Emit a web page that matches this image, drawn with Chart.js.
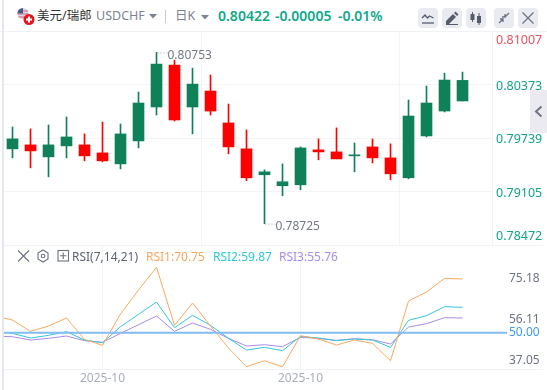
<!DOCTYPE html>
<html><head><meta charset="utf-8">
<script src="https://cdn.jsdelivr.net/npm/chart.js@4/dist/chart.umd.min.js"></script>
<style>
html,body{margin:0;padding:0;background:#fff;overflow:hidden}
#wrap{position:relative;width:547px;height:390px;font-family:"Noto Sans","Noto Sans CJK SC",sans-serif;overflow:hidden}
canvas{position:absolute;left:0;top:0}
.abs{position:absolute;white-space:nowrap}
#head{position:absolute;left:0;top:0;width:547px;height:32px;background:#fff;border-bottom:1px solid #f1f2f5;box-sizing:border-box;z-index:2}
.btn{position:absolute;top:8px;width:20px;height:20px;background:#e9ebf1;border-radius:4px}
.btn svg{position:absolute;left:0;top:0}
.t{line-height:18px;top:7px}
.g{color:#0fa88a;font-weight:600;font-size:14px}
.r{line-height:16px;top:249px;font-size:12px;z-index:3}
</style></head>
<body>
<div id="wrap">
<canvas id="main" width="547" height="390"></canvas>
<canvas id="rsi" width="547" height="390"></canvas>

<div class="abs" style="left:2px;top:0;width:2px;height:390px;background:#e4e8ef;z-index:3"></div>
<div class="abs" style="left:4px;top:245px;width:539px;height:1px;background:#f1f2f5"></div>
<div class="abs" style="left:4px;top:369px;width:539px;height:1px;background:#f1f2f5"></div>
<div class="abs" style="left:492px;top:32px;width:1px;height:213px;background:#f1f2f5"></div>

<div id="head">
  <svg class="abs" style="left:16px;top:7px" width="20" height="20" viewBox="0 0 20 20">
    <circle cx="7" cy="6.5" r="5.5" fill="#d9d9e3"/>
    <path d="M2 4h10M1.6 7h11M2.5 10h9" stroke="#e0626a" stroke-width="1.2"/>
    <path d="M1.5 6.5A5.5 5.5 0 0 1 7 1V6.5Z" fill="#4a5a8c"/>
    <circle cx="13" cy="12.5" r="5.5" fill="#e8131f"/>
    <path d="M13 9.5v6M10 12.5h6" stroke="#fff" stroke-width="2"/>
  </svg>
  <span class="abs t" style="left:37px;font-size:12.5px;color:#333">美元/瑞郎</span>
  <span class="abs t" style="left:96px;font-size:12.5px;color:#7d8391">USDCHF</span>
  <svg class="abs" style="left:149px;top:14px" width="8" height="5"><path d="M0 0H8L4 4.5Z" fill="#7d8391"/></svg>
  <div class="abs" style="left:165px;top:10px;width:1px;height:13px;background:#c8ccd4"></div>
  <span class="abs t" style="left:175px;font-size:12.5px;color:#7d8391">日K</span>
  <svg class="abs" style="left:201px;top:15px" width="8" height="5"><path d="M0 0H8L4 4.5Z" fill="#7d8391"/></svg>
  <span class="abs t g" style="left:218px">0.80422</span>
  <span class="abs t g" style="left:275px">-0.00005</span>
  <span class="abs t g" style="left:338px">-0.01%</span>
  <div class="btn" style="left:418px"><svg width="20" height="20" fill="none" stroke="#555c6b" stroke-width="1.3"><path d="M4 10l3-3 2.5 3 2-2 4 2"/><path d="M4 15h12"/></svg></div>
  <div class="btn" style="left:442px"><svg width="20" height="20"><path d="M4 13l7-7 3 3-7 7H4z" fill="#555c6b"/><path d="M4 16.5h12" stroke="#555c6b"/><path d="M12 5l1.5-1.5 3 3L15 8z" fill="#555c6b"/></svg></div>
  <div class="btn" style="left:466px"><svg width="20" height="20" fill="#555c6b" stroke="#555c6b"><rect x="4.5" y="6" width="4" height="6" stroke="none"/><path d="M6.500 4V14"/><rect x="11" y="8" width="4" height="7" stroke="none"/><path d="M13 5V17"/></svg></div>
  <div class="btn" style="left:494px"><svg width="20" height="20" fill="none" stroke="#6a7180" stroke-width="1.3"><path d="M5 15l4-4M15 5l-4 4M8 9h3V6M9 14v-3H6" /></svg></div>
  <div class="btn" style="left:518px"><svg width="20" height="20" fill="none" stroke="#6a7180" stroke-width="1.2"><path d="M4.500 4.500l11 11M15.500 4.500l-11 11"/></svg></div>
</div>

<div class="abs" style="left:530px;top:90px;width:17px;height:43px;background:rgba(230,230,237,.85);z-index:3">
  <svg class="abs" style="left:4px;top:15px" width="9" height="13" fill="none" stroke="#6f7585" stroke-width="2"><path d="M7.500 1.500L2 6.500l5.500 5"/></svg>
</div>

<svg class="abs" style="left:17px;top:249px;z-index:3" width="60" height="14" fill="none" stroke="#6b7180" stroke-width="1.1">
  <path d="M1 1.500l11 11M12 1.500l-11 11"/>
  <path d="M26 1l5 3v6l-5 3-5-3V4z"/><circle cx="26" cy="7" r="1.800"/>
  <rect x="41" y="1.500" width="10.500" height="10.500"/><path d="M46.200 3.500v6.500M43 6.800h6.500"/>
</svg>
<span class="abs r" style="left:72px;color:#5c6372">RSI(7,14,21)</span>
<span class="abs r" style="left:146px;color:#f7a65a">RSI1:70.75</span>
<span class="abs r" style="left:213px;color:#2fc6dc">RSI2:59.87</span>
<span class="abs r" style="left:279px;color:#a78bea">RSI3:55.76</span>
</div>

<script>
// Candles, oldest first
const opens  = [0.79611,0.79658,0.79516,0.79646,0.79658,0.79563,0.79433,0.79705,0.80107,0.80603,0.80107,0.80296,0.79918,0.79611,0.79304,0.79174,0.79185,0.79599,0.79575,0.79528,0.79634,0.79504,0.79268,0.79764,0.80059,0.80178];
const highs  = [0.79870,0.79847,0.79894,0.79989,0.79788,0.79929,0.79906,0.80284,0.80753,0.80662,0.80567,0.80485,0.80142,0.79835,0.79363,0.79433,0.79634,0.79729,0.79859,0.79681,0.79729,0.79670,0.80189,0.80355,0.80508,0.80520];
const lows   = [0.79504,0.79386,0.79280,0.79504,0.79469,0.79457,0.79374,0.79622,0.80012,0.79941,0.79788,0.80012,0.79552,0.79233,0.78725,0.79055,0.79126,0.79481,0.79492,0.79339,0.79445,0.79244,0.79256,0.79752,0.80048,0.80178];
const closes = [0.79729,0.79587,0.79658,0.79752,0.79528,0.79469,0.79788,0.80154,0.80615,0.79953,0.80378,0.80059,0.79634,0.79268,0.79339,0.79221,0.79622,0.79575,0.79492,0.79540,0.79504,0.79315,0.80000,0.80154,0.80426,0.80422];
// Price axis
const priceTicks = [0.81007,0.80373,0.79739,0.79105,0.78472];
// RSI lines; the first value lies one day before the first candle
const rsi1 = [57.83,55.97,50.70,53.18,56.90,46.98,44.19,58.76,69.92,80.47,53.49,63.88,53.18,42.95,34.26,37.05,34.26,48.68,47.13,44.34,46.67,45.12,37.05,64.81,69.00,75.35,75.04];
const rsi2 = [50.70,49.77,47.60,48.84,50.54,46.67,45.43,52.87,58.61,64.34,52.40,58.14,53.49,47.44,42.02,43.26,41.71,48.37,47.60,46.36,47.13,46.67,43.26,55.82,57.99,62.17,61.86];
const rsi3 = [48.53,48.22,46.67,47.44,48.53,46.36,45.58,49.77,53.80,57.83,50.70,54.58,51.63,47.44,43.88,44.50,43.57,47.91,47.44,46.51,47.29,46.82,44.81,52.71,54.27,57.06,56.90];
const rsiTicks = [37.05,50,56.11,75.18];
const rsiRef = 50;
// Time axis
const dateTicks = [5,16];
const dateLabels = ['2025-10','2025-10'];

const UP='#108058', DOWN='#ff0000', GRID='#f3f4f7';
const FONT='"Noto Sans",sans-serif';
const XMIN=-0.528, XMAX_MAIN=26.694, XMAX_RSI=27.47;
const colour = i => closes[i]>=opens[i]?UP:DOWN;
const dateAxis = (max, showLabels, h) => ({
  type:'linear', min:XMIN, max,
  offset:false,
  afterFit:s=>{ s.height=h; },
  afterBuildTicks:s=>{ s.ticks=dateTicks.map(v=>({value:v})); },
  border:{display:false},
  grid:{color:GRID,lineWidth:1,drawTicks:false},
  ticks:{display:showLabels,autoSkip:false,maxRotation:0,padding:2,color:'#a9aebb',font:{family:FONT,size:12},
    callback:v=>dateLabels[dateTicks.indexOf(v)]}
});

const priceLabels = {
  id:'priceLabels',
  afterDraw(c){
    const g=c.ctx, y=c.scales.y;
    g.save();
    g.font='12.5px '+FONT; g.textBaseline='middle'; g.textAlign='left';
    priceTicks.forEach((v,i)=>{
      const py=Math.min(236,Math.max(40,y.getPixelForValue(v)+1.5));
      g.fillStyle=i===0?'#e8525c':'#12a488';
      g.fillText(v.toFixed(5),496,py);
    });
    g.font='12px '+FONT;
    const x=c.scales.x, hi=Math.max(...highs), lo=Math.min(...lows);
    [[highs.indexOf(hi),hi,3.5],[lows.indexOf(lo),lo,3]].forEach(([i,v,dy])=>{
      const px=x.getPixelForValue(i), py=y.getPixelForValue(v);
      g.strokeStyle='#9aa0ac'; g.setLineDash([1,2]); g.lineWidth=1;
      g.beginPath(); g.moveTo(px+1,py+0.5); g.lineTo(px+11,py+0.5); g.stroke(); g.setLineDash([]);
      g.fillStyle='#737985'; g.fillText(v.toFixed(5),px+11,py+dy);
    });
    g.restore();
  }
};

new Chart(document.getElementById('main'),{
  type:'bar',
  plugins:[priceLabels],
  data:{datasets:[
    {label:'wick',grouped:false,barThickness:1,borderWidth:0,
     data:highs.map((h,i)=>({x:i,y:[lows[i],h]})),
     backgroundColor:highs.map((_,i)=>colour(i))},
    {label:'body',grouped:false,barThickness:11,borderWidth:0,
     data:opens.map((o,i)=>({x:i,y:[o,closes[i]]})),
     backgroundColor:opens.map((_,i)=>colour(i))}
  ]},
  options:{responsive:false,animation:false,
    layout:{padding:{left:3,right:0,top:31,bottom:0}},
    plugins:{legend:{display:false},tooltip:{enabled:false}},
    scales:{
      x:dateAxis(XMAX_MAIN,false,145),
      y:{position:'right',min:priceTicks[4],max:priceTicks[0],afterFit:s=>{ s.width=54; },
        afterBuildTicks:s=>{ s.ticks=priceTicks.map(v=>({value:v})); },
        border:{display:false},
        grid:{color:GRID,lineWidth:1,drawTicks:false},
        ticks:{display:false}}
    }}
});

const series = (arr,color)=>({data:arr.map((v,i)=>({x:i-1,y:v})),borderColor:color,borderWidth:1,pointRadius:0,tension:0,fill:false});
new Chart(document.getElementById('rsi'),{
  type:'line',
  data:{datasets:[
    {data:[{x:-1,y:rsiRef},{x:XMAX_RSI+1,y:rsiRef}],borderColor:'#82bdf2',borderWidth:2,pointRadius:0},
    series(rsi1,'#f9a95c'),
    series(rsi2,'#33c5dd'),
    series(rsi3,'#a98be8')
  ]},
  options:{responsive:false,animation:false,
    layout:{padding:{left:3,right:0,top:245,bottom:0}},
    plugins:{legend:{display:false},tooltip:{enabled:false}},
    scales:{
      x:dateAxis(XMAX_RSI,true,21),
      y:{position:'right',min:33.2,max:90.85,afterFit:s=>{ s.width=40; },
        afterBuildTicks:s=>{ s.ticks=rsiTicks.map(v=>({value:v})); },
        border:{display:false},
        grid:{display:false,drawTicks:false},
        ticks:{padding:2,autoSkip:false,font:{family:FONT,size:12},
          color:c=>c.tick.value===rsiRef?'#3d9cf0':'#6d7380',
          callback:v=>v.toFixed(2)}}
    }}
});
</script>
</body></html>
